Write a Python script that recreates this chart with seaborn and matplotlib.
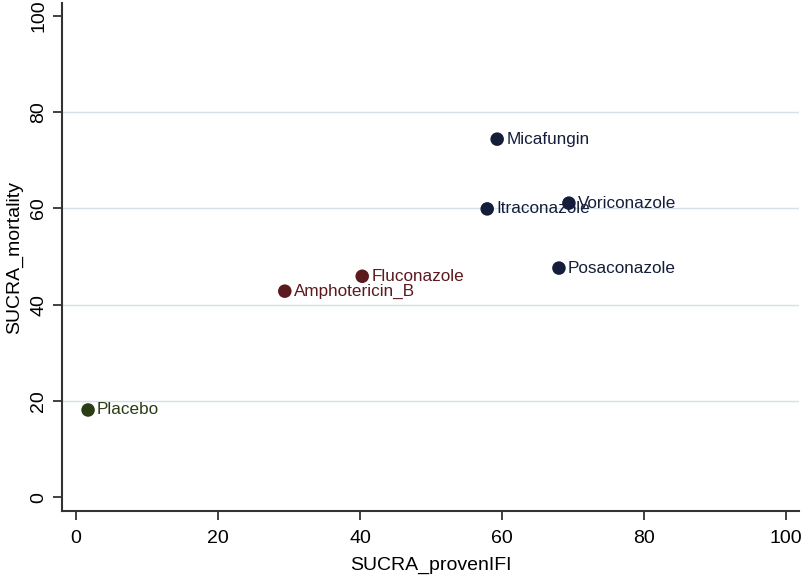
import pandas as pd
import matplotlib
matplotlib.use("Agg")
import matplotlib.pyplot as plt
import seaborn as sns

# data
drugs = ["Placebo", "Amphotericin_B", "Fluconazole", "Micafungin",
         "Itraconazole", "Voriconazole", "Posaconazole"]
sucra_ifi = [1.7, 29.4, 40.3, 59.3, 57.9, 69.4, 68.0]
sucra_mort = [18.1, 42.8, 45.9, 74.4, 59.9, 61.1, 47.6]
group = ["placebo", "polyene", "polyene", "other", "other", "other", "other"]

colors = {"placebo": "#2a3d14", "polyene": "#5a1a1e", "other": "#141e3a"}

df = pd.DataFrame({"drug": drugs, "x": sucra_ifi, "y": sucra_mort, "group": group})

sns.set_style("white")
plt.rcParams["font.family"] = ["Liberation Sans", "DejaVu Sans"]

fig = plt.figure(figsize=(8.04, 5.76), dpi=100)
ax = fig.add_axes([0.0771, 0.1128, 0.9167, 0.882])

for yv in [20, 40, 60, 80]:
    ax.axhline(yv, color="#d3e2e8", lw=1.0, zorder=0)

sns.scatterplot(
    data=df,
    x="x",
    y="y",
    hue="group",
    palette=colors,
    s=95,
    edgecolor="none",
    legend=False,
    ax=ax,
    zorder=3
)

for _, r in df.iterrows():
    ax.annotate(
        r["drug"],
        (r["x"], r["y"]),
        xytext=(6.5, 0),
        textcoords="offset points",
        va="center",
        ha="left",
        fontsize=12.3,
        color=colors[r["group"]]
    )

ax.set_xlim(-1.97, 101.8)
ax.set_ylim(-2.9, 102.7)
ax.set_xticks([0, 20, 40, 60, 80, 100])
ax.set_yticks([0, 20, 40, 60, 80, 100])
ax.set_xlabel("SUCRA_provenIFI", fontsize=14, labelpad=7, color="black")
ax.set_ylabel("SUCRA_mortality", fontsize=14, labelpad=5, color="black")
ax.tick_params(axis="both", direction="out", length=6.5, width=1.3,
               labelsize=14, color="#333333", labelcolor="black",
               bottom=True, left=True)
ax.tick_params(axis="x", pad=7)
ax.tick_params(axis="y", pad=4)
for t in ax.get_yticklabels():
    t.set_rotation(90)
    t.set_va("center")

for side in ["top", "right"]:
    ax.spines[side].set_visible(False)
for side in ["left", "bottom"]:
    ax.spines[side].set_color("#333333")
    ax.spines[side].set_linewidth(1.5)

plt.savefig("out.png", dpi=100)
